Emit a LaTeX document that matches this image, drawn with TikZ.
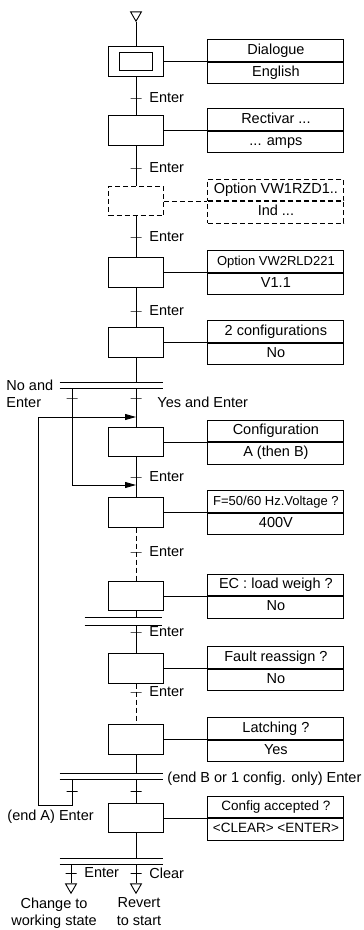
\documentclass[tikz,border=0pt]{standalone}
\usepackage{fontspec}
\setmainfont{Liberation Sans}
\usetikzlibrary{positioning,shapes.geometric,arrows.meta}

\begin{document}
\begin{tikzpicture}[x=1pt,y=-1pt,line width=0.9pt,
  every node/.style={font=\fontsize{14.5}{17.4}\selectfont},
  etape/.style={draw, minimum width=55pt, minimum height=29.5pt, inner sep=0pt},
  libelle/.style={draw, minimum width=136pt, minimum height=21.5pt, inner sep=0pt, text height=10.5pt, text depth=3pt},
  trans/.style={draw, minimum width=11pt, minimum height=0pt, inner sep=0pt, label={[inner sep=0pt, label distance=7pt]right:#1}},
  trans/.default={},
  renvoi/.style={draw, regular polygon, regular polygon sides=3, shape border rotate=180, minimum size=12.5pt, inner sep=0pt},
  simult/.style={minimum width=#1, minimum height=5pt, inner sep=0pt,
    append after command={(\tikzlastnode.north west) edge (\tikzlastnode.north east)
      (\tikzlastnode.south west) edge (\tikzlastnode.south east)}},
  pointille/.style={dash pattern=on 5pt off 3pt},
  fleche/.style={-{Triangle[length=11pt,width=6pt]}},
  petit/.style={font=\fontsize{13}{15.6}\selectfont}]
  \useasboundingbox (0,0) rectangle (364,930);

  % Etapes
  \node[renvoi] (init) at (136,15) {};
  \node[etape] (s0) at (136,61.5) {};
  \node[draw, minimum width=33pt, minimum height=18pt, inner sep=0pt] (s0i) at (s0) {};
  \node[etape] (s1) at (136,130.5) {};
  \node[etape, pointille] (s2) at (136,201) {};
  \node[etape] (s3) at (136,272.5) {};
  \node[etape] (s4) at (136,342.5) {};
  \node[etape] (s5) at (136,442) {};
  \node[etape] (s6) at (136,512.5) {};
  \node[etape] (s7) at (136,596) {};
  \node[etape] (s8) at (136,668.5) {};
  \node[etape] (s9) at (136,739.5) {};
  \node[etape] (s10) at (136,818) {};

  % Affichages
  \node[libelle, above right=0pt and 43.5pt of s0.east] (i0h) {Dialogue};
  \node[libelle, below=0pt of i0h] (i0b) {English};
  \node[libelle, above right=0pt and 43.5pt of s1.east] (i1h) {Rectivar ...};
  \node[libelle, below=0pt of i1h] (i1b) {... amps};
  \node[libelle, pointille, above right=0pt and 43.5pt of s2.east] (i2h) {Option VW1RZD1..};
  \node[libelle, pointille, below=0pt of i2h] (i2b) {Ind ...};
  \node[libelle, petit, above right=0pt and 43.5pt of s3.east] (i3h) {Option VW2RLD221};
  \node[libelle, below=0pt of i3h] (i3b) {V1.1};
  \node[libelle, above right=0pt and 43.5pt of s4.east] (i4h) {2 configurations};
  \node[libelle, below=0pt of i4h] (i4b) {No};
  \node[libelle, above right=0pt and 43.5pt of s5.east] (i5h) {Configuration};
  \node[libelle, below=0pt of i5h] (i5b) {A (then B)};
  \node[libelle, petit, above right=0pt and 43.5pt of s6.east] (i6h) {F=50/60 Hz.Voltage ?};
  \node[libelle, below=0pt of i6h] (i6b) {400V};
  \node[libelle, above right=0pt and 43.5pt of s7.east] (i7h) {EC : load weigh ?};
  \node[libelle, below=0pt of i7h] (i7b) {No};
  \node[libelle, above right=0pt and 43.5pt of s8.east] (i8h) {Fault reassign ?};
  \node[libelle, below=0pt of i8h] (i8b) {No};
  \node[libelle, above right=0pt and 43.5pt of s9.east] (i9h) {Latching ?};
  \node[libelle, below=0pt of i9h] (i9b) {Yes};
  \node[libelle, font=\fontsize{13.5}{16}\selectfont, above right=0pt and 43.5pt of s10.east] (i10h) {Config accepted ?};
  \node[libelle, font=\fontsize{13.5}{16}\selectfont, below=0pt of i10h] (i10b) {<CLEAR> <ENTER>};

  \draw (s0) -- (i0b.north west);
  \draw (s1) -- (i1b.north west);
  \draw[pointille] (s2) -- (i2b.north west);
  \draw (s3) -- (i3b.north west);
  \draw (s4) -- (i4b.north west);
  \draw (s5) -- (i5b.north west);
  \draw (s6) -- (i6b.north west);
  \draw (s7) -- (i7b.north west);
  \draw (s8) -- (i8b.north west);
  \draw (s9) -- (i9b.north west);
  \draw (s10) -- (i10b.north west);

  % Doubles traits
  \node[simult=103pt] (dv1) at (111.5,385.5) {};
  \node[simult=77pt, minimum height=7pt] (dv2) at (123.5,621.5) {};
  \node[simult=103pt] (dv3) at (111.5,776.5) {};
  \node[simult=103pt] (dv4) at (111.5,861.5) {};

  % Liaisons
  \draw (init) -- (s0);
  \draw (s0) -- (s1);
  \draw (s1) -- (s2);
  \draw (s2) -- (s3);
  \draw (s3) -- (s4);
  \draw (s4) -- (s4 |- dv1.north);
  \draw (s5 |- dv1.south) -- (s5);
  \draw (s5) -- (s6);
  \draw[pointille] (s6) -- (s7);
  \draw (s7) -- (s7 |- dv2.north);
  \draw (s8 |- dv2.south) -- (s8);
  \draw[pointille] (s8) -- (s9);
  \draw (s9) -- (s9 |- dv3.north);
  \draw (s10 |- dv3.south) -- (s10);
  \draw (s10) -- (s10 |- dv4.north);

  % Retours
  \coordinate (gC) at (72,485);
  \coordinate (gA) at (72,805);
  \coordinate (gB) at (38,417);
  \draw[fleche] (dv1.south -| gC) -- (gC) -- (gC -| s6);
  \draw[fleche] (dv3.south -| gA) -- (gA) -| (gB) -- (gB -| s5);

  % Fins
  \node[renvoi] (f1) at (71,887) {};
  \node[renvoi] (f2) at (136,887) {};
  \draw (dv4.south -| f1) -- (f1);
  \draw (dv4.south -| f2) -- (f2);

  % Transitions
  \node[trans=Enter] (t0) at (136,98) {};
  \node[trans=Enter] (t1) at (136,168) {};
  \node[trans=Enter] (t2) at (136,237) {};
  \node[trans=Enter] (t3) at (136,311) {};
  \node[trans] (t4) at (136,398) {};
  \node[trans] (t4g) at (72,398) {};
  \node[trans=Enter] (t5) at (136,477) {};
  \node[trans=Enter] (t6) at (136,552) {};
  \node[trans=Enter] (t7) at (136,632) {};
  \node[trans=Enter] (t8) at (136,692) {};
  \node[trans] (t9) at (136,791) {};
  \node[trans] (t9g) at (72,791) {};
  \node[trans=Enter] (t10) at (71,873) {};
  \node[trans=Clear] (t11) at (136,873) {};

  % Textes
  \node[align=left, anchor=north west, inner sep=0pt] (lno) at (6,379.5) {No and\\Enter};
  \node[anchor=west, inner sep=0pt] (lyes) at (157,402) {Yes and Enter};
  \node[anchor=west, inner sep=0pt] (lendb) at (167,779) {(end B or 1 config. only) Enter};
  \node[anchor=west, inner sep=0pt] (lenda) at (7,817) {(end A) Enter};
  \node[align=center, anchor=north, inner sep=0pt] (fin1) at (54,897.5) {Change to\\working state};
  \node[align=center, anchor=north, inner sep=0pt] (fin2) at (139,897.5) {Revert\\to start};
\end{tikzpicture}
\end{document}
